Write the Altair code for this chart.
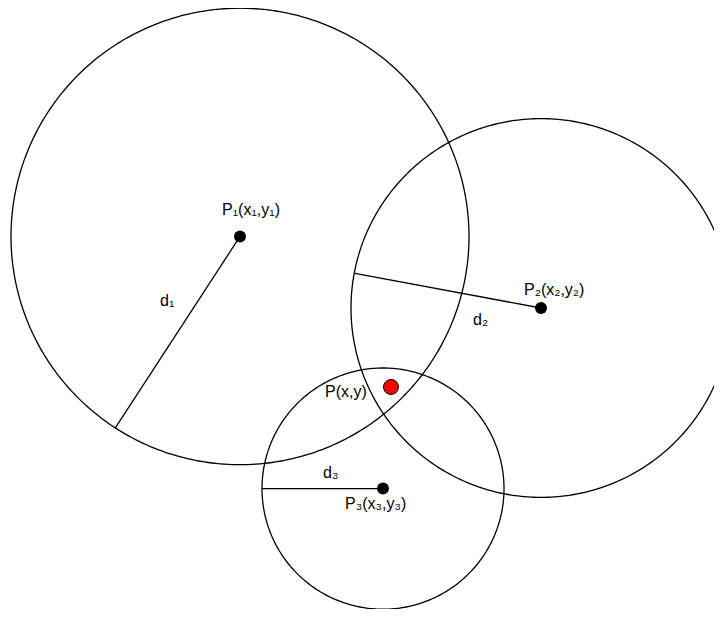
import altair as alt
import numpy as np
import pandas as pd

# ---- chart values (image-style coordinates: x to the right, y downward) ----
circle_names = ["c1", "c2", "c3"]
center_x = [240, 541, 383]
center_y = [236.5, 309, 492]
radius = [229, 190, 121]
# the picture is very slightly taller than wide
y_stretch = 1.01

# end points of the radius segments d1, d2, d3
radius_end_x = [115, 355, 262]
radius_end_y = [431, 274, 492]

point_labels = ["P₁(x₁,y₁)", "P₂(x₂,y₂)", "P₃(x₃,y₃)"]
point_label_x = [222, 524, 345]
point_label_y = [215, 296, 513]

dist_labels = ["d₁", "d₂", "d₃"]
dist_label_x = [160, 473, 323]
dist_label_y = [307, 326, 481]

target_label = ["P(x,y)"]
target_x = [391]
target_y = [389]
target_label_x = [325]
target_label_y = [399]

# ---- tables ----
angles = np.arange(0, 361, 1)
rows = []
for n, cxv, cyv, rv in zip(circle_names, center_x, center_y, radius):
    for i, a in enumerate(angles):
        t = np.deg2rad(a)
        rows.append({"circle": n, "i": i, "x": cxv + rv * np.cos(t),
                     "y": cyv + rv * y_stretch * np.sin(t)})
circles_df = pd.DataFrame(rows)

centers_df = pd.DataFrame({"circle": circle_names, "x": center_x, "y": center_y,
                           "x2": radius_end_x, "y2": radius_end_y})
plabels_df = pd.DataFrame({"label": point_labels, "x": point_label_x, "y": point_label_y})
dlabels_df = pd.DataFrame({"label": dist_labels, "x": dist_label_x, "y": dist_label_y})
target_df = pd.DataFrame({"x": target_x, "y": target_y})
tlabel_df = pd.DataFrame({"label": target_label, "x": target_label_x, "y": target_label_y})

xs = alt.Scale(domain=[8, 714], nice=False, zero=False)
ys = alt.Scale(domain=[5, 614], nice=False, zero=False, reverse=True)

X = lambda f="x": alt.X(f"{f}:Q", scale=xs, axis=None)
Y = lambda f="y": alt.Y(f"{f}:Q", scale=ys, axis=None)

circles = alt.Chart(circles_df).mark_line(color="black", strokeWidth=1.3).encode(
    x=X(), y=Y(), detail="circle:N", order="i:Q"
)

radii = alt.Chart(centers_df).mark_rule(color="black", strokeWidth=1.3).encode(
    x=X(), y=Y(), x2="x2:Q", y2="y2:Q"
)

dots = alt.Chart(centers_df).mark_point(
    shape="circle", filled=True, color="black", size=144, opacity=1
).encode(x=X(), y=Y())

target = alt.Chart(target_df).mark_point(
    shape="circle", filled=True, fill="#ff0000", stroke="black", strokeWidth=1,
    size=225, opacity=1
).encode(x=X(), y=Y())

txt_kw = dict(align="left", baseline="alphabetic", font="Liberation Sans",
              fontSize=16, color="black")

plabels = alt.Chart(plabels_df).mark_text(**txt_kw).encode(x=X(), y=Y(), text="label:N")
dlabels = alt.Chart(dlabels_df).mark_text(**txt_kw).encode(x=X(), y=Y(), text="label:N")
tlabel = alt.Chart(tlabel_df).mark_text(**txt_kw).encode(x=X(), y=Y(), text="label:N")

chart = alt.layer(circles, radii, dots, target, plabels, dlabels, tlabel).properties(
    width=706, height=601, padding=0, autosize=alt.AutoSizeParams(type="none"),
    background="white"
).configure_view(stroke=None)

chart.save("out.html", embed_options={"renderer": "svg", "actions": False})
